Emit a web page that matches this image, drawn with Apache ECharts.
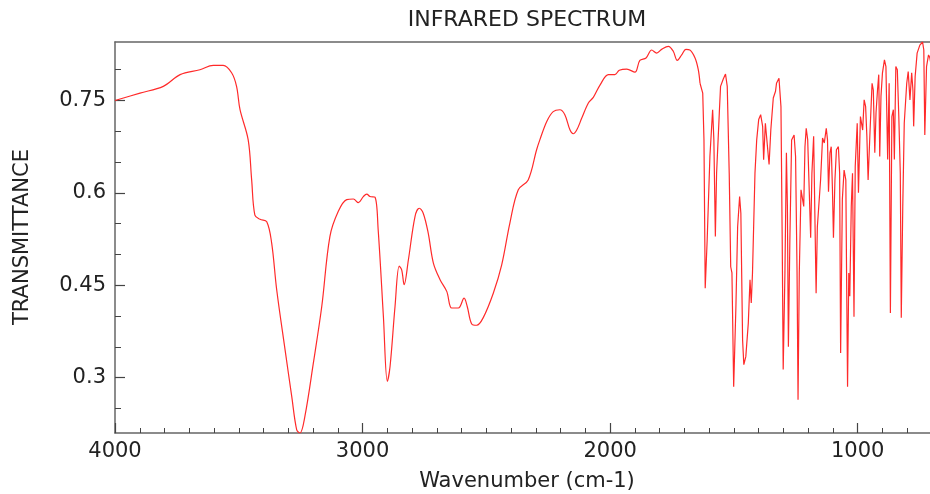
<!DOCTYPE html>
<html>
<head>
<meta charset="utf-8">
<script src="https://cdn.jsdelivr.net/npm/echarts@6.0.0/dist/echarts.min.js"></script>
<style>html,body{margin:0;padding:0;background:#fff;}#chart{width:930px;height:494px;}</style>
</head>
<body>
<div id="chart"></div>
<script>
// Wavenumber (cm-1), descending
const wavenumbers = [
4000,3899,3805,3737,3657,3603,3563,3529,3509,3495,3462,3448,3435,3414,3387,3367,3347,3313,3286,3266,3253,3233,3199,3165,3132,3098,3064,3037,3017,2997,2983,2970,2950,2937,2916,2900,2889,2869,2852,2842,2832,2815,2788,2771,2755,2735,2714,2687,2660,2640,2613,2590,2577,2559,2539,2513,2472,2438,2405,2371,2331,2297,2284,2256,2230,2203,2183,2162,2149,2135,2115,2088,2068,2041,2007,1981,1963,1933,1900,1880,1855,1832,1812,1792,1765,1745,1729,1711,1694,1678,1657,1644,1637,
1626,1621,1616,1608,1597,1586,1581,1575,1570,1559,1554,1543,1534,1527,1519,1513,1508,1501,1492,1485,1477,1472,1465,1460,1452,1442,1435,1430,1425,1415,1408,1400,1392,1384,1380,1373,1365,1358,1351,1341,1332,1328,1318,1310,1305,1301,1294,1288,1284,1280,1274,1267,1257,1251,1245,1241,1236,1229,1222,1218,1213,1208,1202,1196,1190,1185,1178,1172,1168,1163,1156,1150,1142,1135,1127,1122,1118,1112,1107,1102,1098,1092,1086,1078,1073,1069,1062,1055,1048,1045,1041,1036,1032,1026,1021,1015,1010,1002,997,989,980,974,968,963,958,950,942,937,931,926,920,915,911,906,900,892,886,883,879,873,868,862,856,852,846,840,834,828,824,818,812,802,796,789,782,777,774,768,760,749,738,733,729,722,714,709,700,680,650
];
const transmittance = [
0.750,0.762,0.773,0.792,0.800,0.807,0.807,0.795,0.773,0.735,0.686,0.621,0.564,0.557,0.553,0.518,0.443,0.345,0.269,0.215,0.210,0.237,0.323,0.415,0.529,0.570,0.589,0.590,0.584,0.594,0.598,0.594,0.593,0.540,0.400,0.294,0.318,0.415,0.481,0.475,0.451,0.491,0.562,0.575,0.567,0.535,0.486,0.459,0.440,0.413,0.413,0.429,0.415,0.387,0.385,0.397,0.437,0.483,0.551,0.605,0.621,0.670,0.686,0.716,0.732,0.735,0.727,0.702,0.696,0.702,0.721,0.746,0.755,0.775,0.792,0.792,0.799,0.801,0.796,0.815,0.819,0.832,0.827,0.833,0.838,0.830,0.815,0.824,0.833,0.832,0.819,0.800,0.778,
0.762,0.686,0.445,0.524,0.659,0.735,0.686,0.529,0.632,0.730,0.773,0.785,0.793,0.773,0.632,0.480,0.470,0.285,0.415,0.545,0.594,0.567,0.361,0.321,0.334,0.388,0.459,0.421,0.470,0.632,0.686,0.719,0.727,0.708,0.654,0.713,0.716,0.646,0.702,0.754,0.765,0.778,0.786,0.740,0.524,0.313,0.470,0.665,0.578,0.350,0.524,0.686,0.694,0.659,0.470,0.264,0.470,0.605,0.602,0.578,0.675,0.705,0.686,0.689,0.527,0.632,0.692,0.692,0.437,0.545,0.545,0.621,0.689,0.681,0.705,0.686,0.602,0.665,0.675,0.605,0.527,0.621,0.670,0.675,0.632,0.340,0.590,0.637,0.621,0.470,0.285,0.470,0.432,0.578,0.632,0.399,0.643,0.713,0.600,0.724,0.702,0.751,0.740,0.692,0.621,0.702,0.778,0.767,0.665,0.730,0.767,0.792,0.659,0.757,0.795,0.816,0.805,0.740,0.654,0.778,0.405,0.724,0.735,0.654,0.805,0.800,0.724,0.632,0.397,0.578,0.713,0.778,0.797,0.751,0.795,0.767,0.708,0.789,0.827,0.840,0.845,0.832,0.694,0.805,0.824,0.820,0.800,0.790,0.780
];
const xMajorTicks = [4000, 3000, 2000, 1000];
const xMinorTicks = [3900,3800,3700,3600,3500,3400,3300,3200,3100,2900,2800,2700,2600,2500,2400,2300,2200,2100,1900,1800,1700,1600,1500,1400,1300,1200,1100,900,800];
const yMajorTicks = [0.3, 0.45, 0.6, 0.75];
const yMinorTicks = [0.25, 0.35, 0.4, 0.5, 0.55, 0.65, 0.7, 0.8];
const fingerprintStart = 1637;

const broad = [], fingerprint = [];
for (let i = 0; i < wavenumbers.length; i++) {
  const p = [wavenumbers[i], transmittance[i]];
  if (wavenumbers[i] >= fingerprintStart) broad.push(p);
  if (wavenumbers[i] <= fingerprintStart) fingerprint.push(p);
}

const FONT = 'DejaVu Sans';
const TXT = '#222';
const LINE = {color: '#666', width: 1.5};
const chart = echarts.init(document.getElementById('chart'), null, {renderer: 'canvas'});
const xBase = {type: 'value', min: 708, max: 4000, inverse: true, gridIndex: 0,
  splitLine: {show: false}};
const yBase = {type: 'value', min: 0.21, max: 0.845, gridIndex: 0, position: 'left', offset: 0,
  splitLine: {show: false}};
chart.setOption({
  animation: false,
  backgroundColor: '#fff',
  grid: {left: 115, top: 42, right: 0, bottom: 61, show: false},
  xAxis: [
    Object.assign({}, xBase, {
      position: 'bottom', offset: 0,
      axisLine: {show: true, lineStyle: LINE},
      axisTick: {show: true, inside: true, length: 10, lineStyle: {color: '#444', width: 1.2}, customValues: xMajorTicks},
      axisLabel: {show: true, customValues: xMajorTicks, formatter: v => String(v), fontFamily: FONT, fontSize: 21, color: TXT, margin: 8}
    }),
    Object.assign({}, xBase, {
      position: 'bottom', offset: 0,
      axisLine: {show: false},
      axisTick: {show: true, inside: true, length: 5, lineStyle: {color: '#444', width: 1}, customValues: xMinorTicks},
      axisLabel: {show: false}
    }),
    Object.assign({}, xBase, {
      position: 'top', offset: 0,
      axisLine: {show: true, lineStyle: LINE},
      axisTick: {show: false},
      axisLabel: {show: false}
    })
  ],
  yAxis: [
    Object.assign({}, yBase, {
      axisLine: {show: true, lineStyle: LINE},
      axisTick: {show: true, inside: true, length: 10, lineStyle: {color: '#444', width: 1.2}, customValues: yMajorTicks},
      axisLabel: {show: true, customValues: yMajorTicks, formatter: v => String(v), fontFamily: FONT, fontSize: 21, color: TXT, margin: 9}
    }),
    Object.assign({}, yBase, {
      axisLine: {show: false},
      axisTick: {show: true, inside: true, length: 6, lineStyle: {color: '#444', width: 1}, customValues: yMinorTicks},
      axisLabel: {show: false}
    })
  ],
  graphic: [
    {type: 'text', x: 527, y: 20, style: {text: 'INFRARED SPECTRUM', font: '22px "DejaVu Sans"', fill: TXT, textAlign: 'center', textVerticalAlign: 'middle'}},
    {type: 'text', x: 527, y: 482, style: {text: 'Wavenumber (cm-1)', font: '21px "DejaVu Sans"', fill: TXT, textAlign: 'center', textVerticalAlign: 'middle'}},
    {type: 'text', x: 23, y: 237, rotation: Math.PI / 2, style: {text: 'TRANSMITTANCE', font: '21px "DejaVu Sans"', fill: TXT, textAlign: 'center', textVerticalAlign: 'middle'}}
  ],
  series: [
    {type: 'line', xAxisIndex: 0, yAxisIndex: 0, data: broad, smooth: 0.35, showSymbol: false, symbol: 'none',
      lineStyle: {color: '#ff2a2a', width: 1.2}},
    {type: 'line', xAxisIndex: 0, yAxisIndex: 0, data: fingerprint, smooth: false, showSymbol: false, symbol: 'none',
      lineStyle: {color: '#ff2a2a', width: 1.2}}
  ]
});
</script>
</body>
</html>
